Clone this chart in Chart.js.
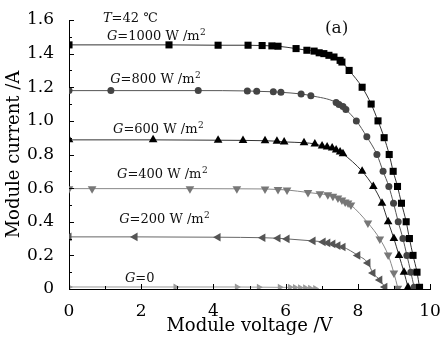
<!DOCTYPE html>
<html>
<head>
<meta charset="utf-8">
<script src="https://cdn.jsdelivr.net/npm/chart.js@4.4.1/dist/chart.umd.min.js"></script>
<style>
    html, body { margin: 0; padding: 0; background: #fff; }
    #wrap { width: 442px; height: 340px; }
</style>
</head>
<body>
<div id="wrap"><canvas id="ivChart" width="442" height="340"></canvas></div>
<script>
// I-V points, T = 42 C
const volt1000 = [0, 2.77, 4.13, 4.96, 5.35, 5.62, 5.79, 6.29, 6.59, 6.79, 6.93, 7.06, 7.20, 7.34, 7.51, 7.56, 7.76, 8.12, 8.37, 8.56, 8.73, 8.87, 8.98, 9.10, 9.21, 9.34, 9.43, 9.53, 9.64, 9.71];
const curr1000 = [1.452, 1.452, 1.45, 1.45, 1.448, 1.446, 1.444, 1.43, 1.42, 1.415, 1.405, 1.40, 1.39, 1.38, 1.36, 1.35, 1.30, 1.20, 1.10, 1.00, 0.90, 0.80, 0.70, 0.61, 0.51, 0.40, 0.30, 0.20, 0.10, 0.01];

const volt800 = [0, 1.16, 3.58, 4.94, 5.20, 5.66, 5.87, 6.43, 6.70, 7.40, 7.48, 7.59, 7.67, 7.96, 8.25, 8.53, 8.70, 8.86, 8.99, 9.12, 9.25, 9.36, 9.47, 9.56];
const curr800 = [1.18, 1.18, 1.18, 1.178, 1.176, 1.173, 1.17, 1.16, 1.15, 1.11, 1.097, 1.085, 1.068, 1.00, 0.905, 0.80, 0.70, 0.61, 0.51, 0.40, 0.30, 0.20, 0.10, 0.01];

const volt600 = [0, 2.33, 4.13, 4.82, 5.43, 5.76, 5.96, 6.51, 6.81, 7.01, 7.15, 7.29, 7.40, 7.51, 7.59, 8.12, 8.43, 8.67, 8.84, 9.00, 9.14, 9.28, 9.39];
const curr600 = [0.887, 0.887, 0.885, 0.884, 0.882, 0.879, 0.875, 0.87, 0.863, 0.851, 0.845, 0.839, 0.827, 0.815, 0.804, 0.70, 0.61, 0.51, 0.40, 0.30, 0.20, 0.10, 0.01];

const volt400 = [0, 0.64, 3.35, 4.65, 5.43, 5.79, 6.04, 6.62, 6.95, 7.17, 7.31, 7.45, 7.56, 7.65, 7.73, 7.81, 8.28, 8.61, 8.84, 9.00, 9.11];
const curr400 = [0.597, 0.597, 0.597, 0.596, 0.595, 0.592, 0.589, 0.574, 0.566, 0.56, 0.551, 0.542, 0.53, 0.518, 0.512, 0.50, 0.393, 0.298, 0.202, 0.095, 0.005];

const volt200 = [0, 1.83, 4.13, 5.37, 5.79, 6.04, 6.76, 7.04, 7.17, 7.31, 7.45, 7.59, 8.00, 8.28, 8.42, 8.61, 8.75];
const curr200 = [0.31, 0.31, 0.308, 0.305, 0.302, 0.298, 0.286, 0.28, 0.274, 0.268, 0.258, 0.25, 0.20, 0.155, 0.095, 0.054, 0.012];

const volt0 = [0, 2.95, 4.65, 5.26, 5.84, 6.12, 6.26, 6.40, 6.54, 6.68, 6.82];
const curr0 = [0.012, 0.012, 0.012, 0.011, 0.01, 0.01, 0.009, 0.008, 0.007, 0.005, 0.003];

const xTicks = [0, 2, 4, 6, 8, 10];
const yTicks = [0, 0.2, 0.4, 0.6, 0.8, 1.0, 1.2, 1.4, 1.6];

// curve labels: [italic part, plain part, superscript]
const notes = [
    { v: 0.94, a: 1.59, it: 'T', txt: '=42 \u2103', sup: '' },
    { v: 1.05, a: 1.48, it: 'G', txt: '=1000 W /m', sup: '2' },
    { v: 1.14, a: 1.226, it: 'G', txt: '=800 W /m', sup: '2' },
    { v: 1.22, a: 0.929, it: 'G', txt: '=600 W /m', sup: '2' },
    { v: 1.33, a: 0.66, it: 'G', txt: '=400 W /m', sup: '2' },
    { v: 1.39, a: 0.393, it: 'G', txt: '=200 W /m', sup: '2' },
    { v: 1.55, a: 0.042, it: 'G', txt: '=0', sup: '' }
];

const SERIF = '"DejaVu Serif", "Liberation Serif", serif';

function toPoints(vs, is) {
    return vs.map((v, k) => ({ x: v, y: is[k] }));
}

function series(vs, is, shape, rot, radius, markColor, lineColor) {
    return {
        data: toPoints(vs, is),
        borderColor: lineColor,
        borderWidth: 1,
        backgroundColor: markColor,
        pointBackgroundColor: markColor,
        pointBorderColor: markColor,
        pointBorderWidth: 0,
        pointStyle: shape,
        pointRotation: rot,
        pointRadius: radius,
        cubicInterpolationMode: 'monotone',
        fill: false
    };
}

// inward tick marks + text on the plot
const decorPlugin = {
    id: 'decor',
    afterDraw(chart) {
        const c = chart.ctx;
        const xs = chart.scales.x;
        const ys = chart.scales.y;
        const area = chart.chartArea;
        c.save();
        c.strokeStyle = '#000';
        c.lineWidth = 1;
        c.beginPath();
        for (let v = 0; v <= 10; v += 1) {
            const px = Math.round(xs.getPixelForValue(v)) + 0.5;
            const len = v % 2 === 0 ? 5 : 3;
            c.moveTo(px, area.bottom);
            c.lineTo(px, area.bottom - len);
        }
        for (let k = 0; k <= 16; k++) {
            const py = Math.round(ys.getPixelForValue(k / 10)) + 0.5;
            const len = k % 2 === 0 ? 5 : 3;
            c.moveTo(area.left, py);
            c.lineTo(area.left + len, py);
        }
        c.stroke();

        c.fillStyle = '#111';
        c.textBaseline = 'alphabetic';
        c.textAlign = 'left';
        notes.forEach(n => {
            let px = xs.getPixelForValue(n.v);
            const py = ys.getPixelForValue(n.a);
            c.font = 'italic 13px ' + SERIF;
            c.fillText(n.it, px, py);
            px += c.measureText(n.it).width;
            c.font = '13px ' + SERIF;
            c.fillText(n.txt, px, py);
            px += c.measureText(n.txt).width;
            if (n.sup) {
                c.font = '9px ' + SERIF;
                c.fillText(n.sup, px + 0.5, py - 5);
            }
        });
        c.font = '17px ' + SERIF;
        c.fillText('(a)', xs.getPixelForValue(7.09), ys.getPixelForValue(1.52));
        c.restore();
    }
};

const chart = new Chart(document.getElementById('ivChart'), {
    type: 'line',
    data: {
        datasets: [
            series(volt1000, curr1000, 'rect', 0, 5, '#000', '#333'),
            series(volt800, curr800, 'circle', 0, 3.5, '#444', '#555'),
            series(volt600, curr600, 'triangle', 0, 5, '#000', '#333'),
            series(volt400, curr400, 'triangle', 180, 5, '#777', '#888'),
            series(volt200, curr200, 'triangle', 270, 5, '#555', '#666'),
            series(volt0, curr0, 'triangle', 90, 4, '#999', '#999')
        ]
    },
    options: {
        responsive: false,
        animation: false,
        devicePixelRatio: 1,
        layout: { padding: { top: 20, right: 12, left: 0, bottom: 0 } },
        plugins: { legend: { display: false }, tooltip: { enabled: false } },
        scales: {
            x: {
                type: 'linear',
                min: 0,
                max: 10,
                afterBuildTicks: (s) => { s.ticks = xTicks.map(v => ({ value: v })); },
                afterFit: (s) => {
                    s.height = 51;
                    s.paddingLeft = 0;
                    s.paddingRight = 0;
                },
                grid: { display: false },
                border: { display: true, color: '#000', width: 1 },
                ticks: {
                    padding: 4,
                    color: '#000',
                    font: { family: SERIF, size: 17 },
                    callback: (v) => String(v)
                },
                title: {
                    display: true,
                    text: 'Module voltage /V',
                    color: '#000',
                    font: { family: SERIF, size: 18 },
                    padding: { top: 0, bottom: 3 }
                }
            },
            y: {
                type: 'linear',
                min: 0,
                max: 1.6,
                afterBuildTicks: (s) => { s.ticks = yTicks.map(v => ({ value: v })); },
                afterFit: (s) => {
                    s.width = 69;
                    s.paddingTop = 0;
                    s.paddingBottom = 0;
                },
                grid: { display: false },
                border: { display: true, color: '#000', width: 1 },
                ticks: {
                    padding: 7,
                    color: '#000',
                    font: { family: SERIF, size: 17 },
                    callback: (v) => (v === 0 ? '0' : v.toFixed(1))
                },
                title: {
                    display: true,
                    text: 'Module current /A',
                    color: '#000',
                    font: { family: SERIF, size: 18 },
                    padding: { top: 4, bottom: 0 }
                }
            }
        }
    },
    plugins: [decorPlugin]
});
</script>
</body>
</html>
